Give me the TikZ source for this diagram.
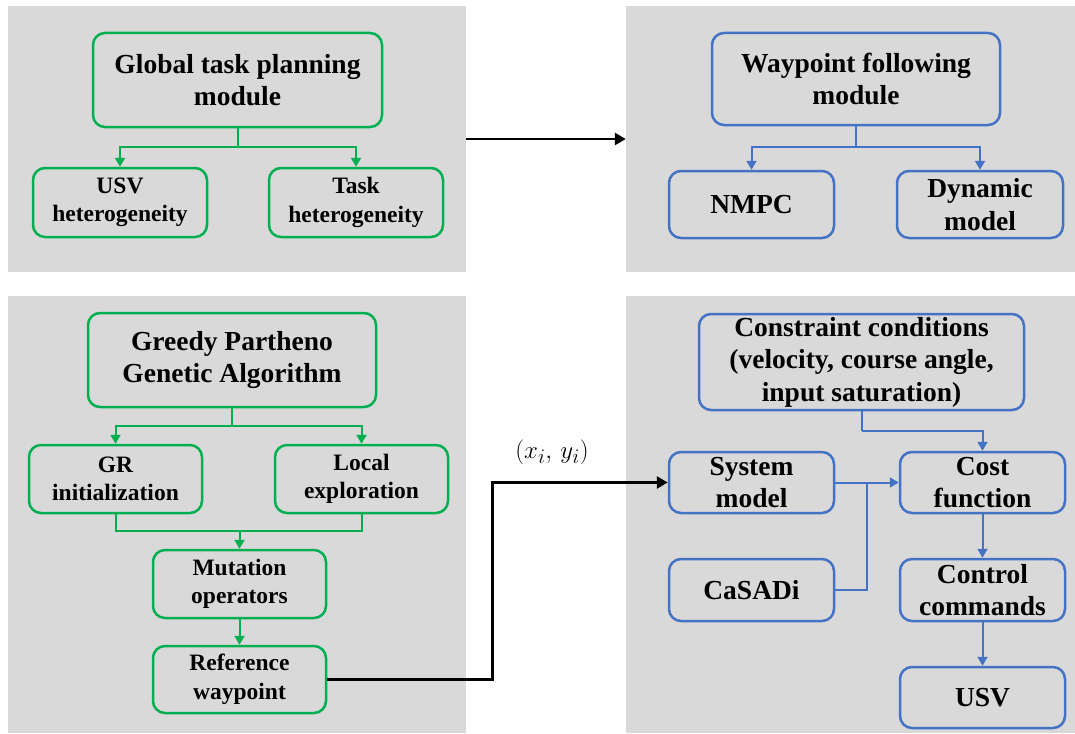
\documentclass[tikz,border=0pt]{standalone}
\usepackage{fontspec}
\setmainfont{Liberation Serif}
\usetikzlibrary{arrows.meta}
\definecolor{boxgreen}{RGB}{0,176,80}
\definecolor{boxblue}{RGB}{68,114,196}
\definecolor{panelgray}{RGB}{217,217,217}
\begin{document}
\begin{tikzpicture}[
        x=1pt, y=-1pt,
        panel/.style={rectangle, fill=panelgray, inner sep=0pt},
        gbox/.style={rectangle, draw=boxgreen, line width=2.5pt, rounded corners=12pt, align=center, inner sep=0pt},
        bbox/.style={rectangle, draw=boxblue, line width=2.5pt, rounded corners=12pt, align=center, inner sep=0pt},
        bigtext/.style={font=\fontsize{27.5}{32.5}\selectfont\bfseries},
        smalltext/.style={font=\fontsize{23.5}{28.5}\selectfont\bfseries},
        garrow/.style={draw=boxgreen, line width=2pt, -{Triangle[length=9pt, width=10pt]}},
        gline/.style={draw=boxgreen, line width=2pt},
        barrow/.style={draw=boxblue, line width=2pt, -{Triangle[length=9pt, width=10pt]}},
        bline/.style={draw=boxblue, line width=2pt},
        karrow/.style={draw=black, line width=3pt, -{Triangle[length=11pt, width=12pt]}}
    ]
    \useasboundingbox (0,0) rectangle (1075,733);

    % background panels
    \node[panel, minimum width=458pt, minimum height=266pt] (pnlTL) at (237,139) {};
    \node[panel, minimum width=449pt, minimum height=266pt] (pnlTR) at (850.5,139) {};
    \node[panel, minimum width=458pt, minimum height=437pt] (pnlBL) at (237,514.5) {};
    \node[panel, minimum width=449pt, minimum height=437pt] (pnlBR) at (850.5,514.5) {};

    % top left: task planning
    \node[gbox, bigtext, minimum width=289pt, minimum height=94pt] (glob) at (237.5,80) {Global task planning\\module};
    \node[gbox, smalltext, minimum width=174pt, minimum height=69pt] (usvh) at (120,202.5) {USV\\heterogeneity};
    \node[gbox, smalltext, minimum width=174pt, minimum height=69pt] (taskh) at (356,202.5) {Task\\heterogeneity};
    \coordinate (gsplit) at (237.5,147);
    \draw[gline] (glob.south) -- (gsplit);
    \draw[garrow] (gsplit) -| (usvh.north);
    \draw[garrow] (gsplit) -| (taskh.north);

    % top right: waypoint following
    \node[bbox, bigtext, minimum width=288pt, minimum height=92pt] (wpf) at (856,79) {Waypoint following\\module};
    \node[bbox, bigtext, minimum width=165pt, minimum height=67pt] (nmpc) at (751.5,204.5) {NMPC};
    \node[bbox, bigtext, minimum width=166pt, minimum height=67pt] (dyn) at (980,204.5) {Dynamic\\model};
    \coordinate (bsplit) at (856,147);
    \draw[bline] (wpf.south) -- (bsplit);
    \draw[barrow] (bsplit) -| (nmpc.north);
    \draw[barrow] (bsplit) -| (dyn.north);

    \draw[karrow, line width=2.5pt] (pnlTL.east) -- (pnlTR.west);

    % bottom left: GPGA
    \node[gbox, bigtext, minimum width=288pt, minimum height=94pt] (gpga) at (232,360) {Greedy Partheno\\Genetic Algorithm};
    \node[gbox, smalltext, minimum width=173pt, minimum height=68pt] (gri) at (115.5,479) {GR\\initialization};
    \node[gbox, smalltext, minimum width=173pt, minimum height=68pt] (lexp) at (361.5,479) {Local\\exploration};
    \node[gbox, smalltext, minimum width=173pt, minimum height=68pt] (mut) at (239.5,584) {Mutation\\operators};
    \node[gbox, smalltext, minimum width=173pt, minimum height=67pt] (refw) at (239.5,679.5) {Reference\\waypoint};
    \coordinate (gasplit) at (232,426);
    \coordinate (gamerge) at (239.5,531);
    \draw[gline] (gpga.south) -- (gasplit);
    \draw[garrow] (gasplit) -| (gri.north);
    \draw[garrow] (gasplit) -| (lexp.north);
    \draw[gline] (gri.south) |- (gamerge);
    \draw[gline] (lexp.south) |- (gamerge);
    \draw[garrow] (gamerge) -- (mut.north);
    \draw[garrow] (mut.south) -- (refw.north);

    % bottom right: NMPC structure
    \node[bbox, bigtext, minimum width=325pt, minimum height=96pt] (cons) at (861.5,362) {Constraint conditions\\(velocity, course angle,\\input saturation)};
    \node[bbox, bigtext, minimum width=165pt, minimum height=61pt] (sysm) at (751.5,482.5) {System\\model};
    \node[bbox, bigtext, minimum width=165pt, minimum height=61pt] (cost) at (982.5,482.5) {Cost\\function};
    \node[bbox, bigtext, minimum width=165pt, minimum height=62pt] (casadi) at (751.5,590) {CaSADi};
    \node[bbox, bigtext, minimum width=165pt, minimum height=62pt] (ctrl) at (982.5,590) {Control\\commands};
    \node[bbox, bigtext, minimum width=165pt, minimum height=61pt] (usv) at (982.5,697.5) {USV};
    \coordinate (consturn) at (861.5,431);
    \coordinate (join) at (867,482.5);
    \draw[bline] (cons.south) -- (consturn);
    \draw[barrow] (consturn) -| (cost.north);
    \draw[barrow] (sysm.east) -- (cost.west);
    \draw[bline] (casadi.east) -| (join);
    \draw[barrow] (cost.south) -- (ctrl.north);
    \draw[barrow] (ctrl.south) -- (usv.north);

    % reference waypoint to system model
    \coordinate (riser) at (492.5,679.5);
    \draw[karrow] (refw.east) -- (riser) |- (sysm.west);
    \node[font=\fontsize{31}{36}\selectfont] (xylab) at (552,452) {$(x_i,\,y_i)$};
\end{tikzpicture}
\end{document}
